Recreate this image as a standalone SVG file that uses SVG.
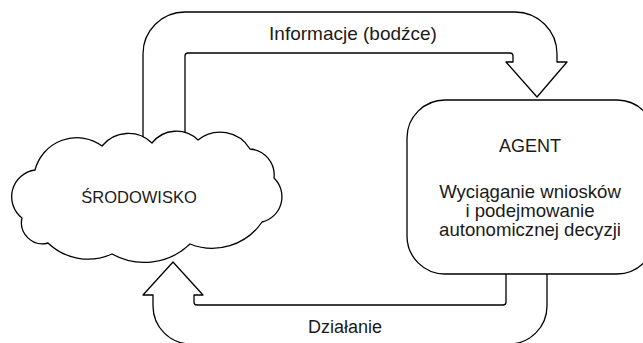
<svg xmlns="http://www.w3.org/2000/svg" width="643" height="343" viewBox="0 0 643 343">
  <style>
    .shape { fill: #ffffff; stroke: #000000; stroke-width: 1.3; stroke-linejoin: round; }
    .label { font-family: "Liberation Sans", Arial, Helvetica, sans-serif; font-size: 18px; fill: #1a1a1a; text-anchor: middle; }
  </style>
  <rect width="643" height="343" fill="#ffffff"/>

  <!-- Connectors: wide block arrows -->
  <g id="connectors">
    <!-- Information flow: environment to agent -->
    <path id="arrow-information" class="shape"
          d="M143,150 L143,54 A42,42 0 0 1 185,12 L515,12 A42,42 0 0 1 557,54 L557,62 L567,62 L537,97 L506,62 L513,62 L513,56 Q513,53 510,53 L188,53 Q185,53 185,56 L185,150"/>
    <!-- Action flow: agent to environment -->
    <path id="arrow-action" class="shape"
          d="M547,260 L547,306 A38,38 0 0 1 509,344 L191,344 A38,38 0 0 1 153,306 L153,295 L143,295 L173,262 L203,295 L194,295 L194,302 Q194,305 197,305 L503,305 Q506,305 506,302 L506,260"/>
    <text class="label" x="353" y="40" style="font-size:19px">Informacje (bodźce)</text>
    <text class="label" x="345" y="333">Działanie</text>
  </g>

  <!-- Environment node (cloud) -->
  <g id="node-environment">
    <path class="shape"
          d="M35,170 A43,43 0 0 1 102,146 A34,34 0 0 1 152,143 A31,31 0 0 1 198,140 A35,35 0 0 1 250,149 A26,26 0 0 1 274,178 A26,26 0 0 1 262,222 A60,60 0 0 1 190,244 A66,66 0 0 1 112,254 A58,58 0 0 1 48,243 A21,21 0 0 1 22,218 A27,27 0 0 1 35,170 Z"/>
    <text class="label" x="139" y="203" style="font-size:16.5px">ŚRODOWISKO</text>
  </g>

  <!-- Agent node -->
  <g id="node-agent">
    <rect class="shape" x="407" y="100" width="248" height="174" rx="38" ry="38"/>
    <text class="label" x="530" y="152">AGENT</text>
    <text class="label" x="530" y="198" style="font-size:18.6px">Wyciąganie wniosków</text>
    <text class="label" x="530" y="217" style="font-size:18.6px">i podejmowanie</text>
    <text class="label" x="530" y="236" style="font-size:18.6px">autonomicznej decyzji</text>
  </g>
</svg>
